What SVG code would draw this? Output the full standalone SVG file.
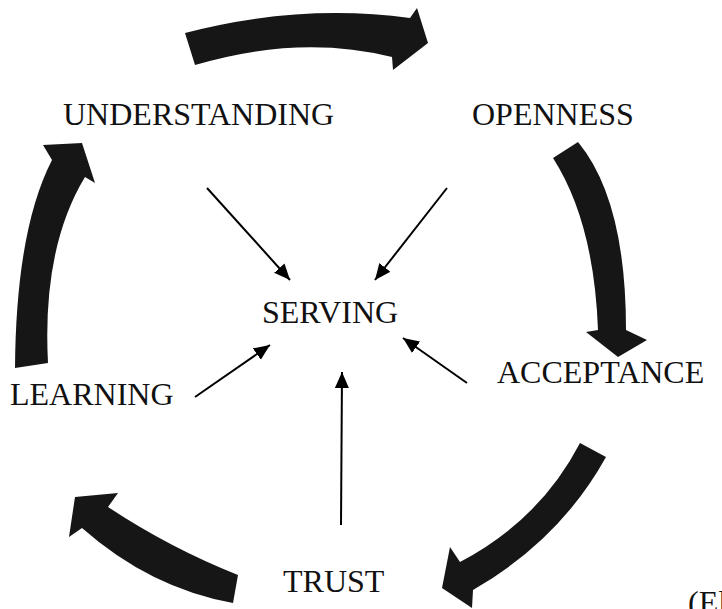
<svg xmlns="http://www.w3.org/2000/svg" width="722" height="609" viewBox="0 0 722 609">
  <style>
    .lbl { font-family: "Liberation Serif", "Times New Roman", serif; font-size: 32px; fill: #111; }
    .big { fill: #161616; stroke: none; }
    .thin { stroke: #000; stroke-width: 2; fill: none; marker-end: url(#ah); }
  </style>
  <defs>
    <marker id="ah" markerUnits="userSpaceOnUse" markerWidth="17" markerHeight="15" refX="16" refY="7" orient="auto">
      <path d="M0,0 L16,7 L0,14 Z" fill="#000"/>
    </marker>
  </defs>
  <rect width="722" height="609" fill="#fff"/>
  <g id="connectors">
    <g id="cycle">
      <path class="big" d="M185,33 Q300,3 410,18 L417,8 L428,43 L393,70 L392,57 Q300,34 195,65 Z"/>
      <path class="big" d="M578,142 Q626,200 626,330 L647,340 L618,357 L586,332 L598,330 Q594,222 553,158 Z"/>
      <path class="big" d="M580,443 Q540,520 460,562 L450,547 L442,588 L472,608 L473,590 Q560,540 606,457 Z"/>
      <path class="big" d="M238,575 Q170,548 108,507 L118,493 L75,497 L69,537 L82,528 Q150,588 233,603 Z"/>
      <path class="big" d="M15,368 Q16,230 52,160 L43,145 L82,143 L95,183 L85,177 Q42,248 48,363 Z"/>
    </g>
    <g id="to-serving">
      <line class="thin" x1="207" y1="188" x2="290" y2="280"/>
      <line class="thin" x1="447" y1="188" x2="375" y2="280"/>
      <line class="thin" x1="195" y1="397" x2="270" y2="345"/>
      <line class="thin" x1="467" y1="383" x2="403" y2="338"/>
      <line class="thin" x1="341" y1="525" x2="342" y2="372"/>
    </g>
  </g>
  <g id="understanding"><text class="lbl" x="63" y="125">UNDERSTANDING</text></g>
  <g id="openness"><text class="lbl" x="472" y="125">OPENNESS</text></g>
  <g id="serving"><text class="lbl" x="262" y="323">SERVING</text></g>
  <g id="learning"><text class="lbl" x="10" y="405">LEARNING</text></g>
  <g id="acceptance"><text class="lbl" x="497" y="383">ACCEPTANCE</text></g>
  <g id="trust"><text class="lbl" x="283" y="592">TRUST</text></g>
  <g id="source"><text class="lbl" x="688" y="613">(El</text></g>
</svg>
